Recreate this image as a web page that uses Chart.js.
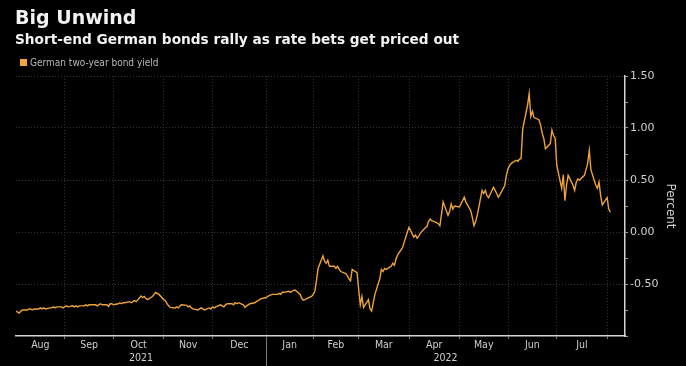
<!DOCTYPE html>
<html>
<head>
<meta charset="utf-8">
<script src="https://cdn.jsdelivr.net/npm/chart.js@4.4.0/dist/chart.umd.min.js"></script>
<style>
  html,body{margin:0;padding:0;background:#000;}
  #wrap{position:relative;width:686px;height:366px;background:#000;}
  #title{position:absolute;left:15px;top:6px;color:#f2f2f2;font:bold 19px "DejaVu Sans",sans-serif;}
  #sub{position:absolute;left:15px;top:31px;color:#f2f2f2;font:bold 13.7px "DejaVu Sans",sans-serif;}
  #leg{position:absolute;left:20px;top:57px;color:#b8b8b8;font:10px "DejaVu Sans Condensed",sans-serif;}
  #leg span{display:inline-block;width:7px;height:7px;background:#f0a63a;margin-right:3px;vertical-align:0px;}
</style>
</head>
<body>
<div id="wrap">
  <canvas id="c"></canvas>
  <div id="title">Big Unwind</div>
  <div id="sub">Short-end German bonds rally as rate bets get priced out</div>
  <div id="leg"><span></span>German two-year bond yield</div>
</div>
<script>
// day numbers counted from 1 Aug 2021 (day 0); weekday closes, Mon..Fri per row
const seriesLabel='German two-year bond yield';
const startDay2021=1;   // Mon 2 Aug 2021
const startDay2022=155; // Mon 3 Jan 2022
const yields2021=[
  -0.76,-0.77,-0.78,-0.76,-0.75,
  -0.75,-0.74,-0.74,-0.75,-0.74,
  -0.74,-0.73,-0.74,-0.73,-0.74,
  -0.73,-0.73,-0.72,-0.73,-0.72,
  -0.72,-0.73,-0.72,-0.71,-0.72,
  -0.71,-0.72,-0.71,-0.72,-0.71,
  -0.71,-0.70,-0.71,-0.70,-0.70,
  -0.70,-0.71,-0.70,-0.69,-0.70,
  -0.70,-0.715,-0.69,-0.69,-0.70,
  -0.69,-0.68,-0.69,-0.68,-0.68,
  -0.67,-0.68,-0.67,-0.66,-0.67,
  -0.615,-0.63,-0.62,-0.64,-0.65,
  -0.62,-0.60,-0.58,-0.59,-0.60,
  -0.65,-0.66,-0.69,-0.71,-0.725,
  -0.73,-0.72,-0.73,-0.71,-0.70,
  -0.705,-0.72,-0.71,-0.73,-0.74,
  -0.75,-0.74,-0.73,-0.74,-0.75,
  -0.73,-0.74,-0.72,-0.73,-0.72,
  -0.70,-0.71,-0.72,-0.70,-0.69,
  -0.69,-0.70,-0.68,-0.69,-0.68,
  -0.70,-0.725,-0.71,-0.70,-0.69,
  -0.68,-0.67,-0.66,-0.65,-0.64
];
const yields2022=[
  -0.63,-0.62,-0.61,-0.605,-0.60,
  -0.60,-0.59,-0.60,-0.58,-0.58,
  -0.57,-0.58,-0.57,-0.56,-0.56,
  -0.60,-0.64,-0.655,-0.65,-0.64,
  -0.62,-0.60,-0.57,-0.47,-0.35,
  -0.23,-0.28,-0.30,-0.27,-0.33,
  -0.33,-0.35,-0.33,-0.36,-0.38,
  -0.40,-0.42,-0.45,-0.47,-0.36,
  -0.39,-0.55,-0.70,-0.62,-0.725,
  -0.65,-0.74,-0.76,-0.68,-0.60,
  -0.45,-0.36,-0.38,-0.35,-0.36,
  -0.33,-0.30,-0.32,-0.26,-0.22,
  -0.15,-0.10,-0.05,0.00,0.045,
  -0.05,-0.03,-0.06,-0.04,-0.01,
  0.04,0.05,0.10,0.125,0.11,
  0.09,0.08,0.06,0.17,0.29,
  0.16,0.20,0.27,0.22,0.25,
  0.24,0.27,0.30,0.335,0.29,
  0.205,0.14,0.06,0.10,0.16,
  0.40,0.37,0.40,0.35,0.33,
  0.43,0.40,0.37,0.335,0.36,
  0.45,0.55,0.61,0.64,0.66,
  0.69,0.68,0.70,0.705,0.99,
  1.22,1.33,1.11,1.16,1.10,
  1.08,1.03,0.95,0.90,0.80,
  0.85,0.98,0.93,0.90,0.64,
  0.42,0.55,0.30,0.45,0.545,
  0.45,0.40,0.48,0.51,0.50,
  0.545,0.60,0.66,0.785,0.60,
  0.45,0.42,0.48,0.35,0.26,
  0.33,0.22,0.19
];
// first trading day of each month (gridlines), and month names between them
const monthStarts=[31,61,92,122,155,184,212,243,274,304,334,365];
const monthNames=['Aug','Sep','Oct','Nov','Dec','Jan','Feb','Mar','Apr','May','Jun','Jul'];
const years=['2021','2022'];
const xMin=1, xMax=376;
const yMin=-1, yMax=1.5;
const yTicks=[-1,-0.75,-0.5,-0.25,0,0.25,0.5,0.75,1,1.25,1.5];

function toPoints(start,vals){
  return vals.map((v,i)=>({x:start+Math.floor(i/5)*7+(i%5),y:v}));
}
const points=toPoints(startDay2021,yields2021).concat(toPoints(startDay2022,yields2022));

// x ticks: boundaries (grid), month centres (labels), year centres (2nd line labels)
const xTicks=[];
monthStarts.forEach(d=>xTicks.push({value:d,kind:'b',label:''}));
const bounds=[xMin].concat(monthStarts);
monthNames.forEach((m,i)=>xTicks.push({value:(bounds[i]+bounds[i+1])/2,kind:'m',label:m}));
xTicks.push({value:(xMin+startDay2022)/2,kind:'y',label:['',years[0]]});
xTicks.push({value:(startDay2022+xMax)/2,kind:'y',label:['',years[1]]});

const GRID='#333', AXIS='#d4d4d4', TXT='#cfcfcf';
const isMajor=v=>Math.abs(v*2-Math.round(v*2))<1e-6&&v>yMin;

const yearSep={id:'yearSep',afterDraw(chart){
  const c=chart.ctx, x=Math.round(chart.scales.x.getPixelForValue(startDay2022))+0.5;
  c.save();c.strokeStyle='#777';c.lineWidth=1;
  c.beginPath();c.moveTo(x,chart.chartArea.bottom+2);c.lineTo(x,chart.height);c.stroke();c.restore();
}};

new Chart(document.getElementById('c'),{type:'line',
  data:{datasets:[{label:seriesLabel,data:points,borderColor:'#eea23a',borderWidth:1.4,
    pointRadius:0,tension:0,fill:false}]},
  options:{responsive:true,maintainAspectRatio:false,animation:false,
    layout:{padding:{left:16,top:76,right:0,bottom:0}},
    plugins:{legend:{display:false},tooltip:{enabled:false}},
    scales:{
      x:{type:'linear',min:xMin,max:xMax,
        afterBuildTicks:s=>{s.ticks=xTicks.map(t=>({value:t.value}));},
        afterFit:s=>{s.height=30;},
        ticks:{autoSkip:false,maxRotation:0,color:TXT,padding:0,
          font:{family:'DejaVu Sans Condensed',size:10.5},
          callback:(v,i)=>xTicks[i].label},
        grid:{color:ctx=>xTicks[ctx.index]&&xTicks[ctx.index].kind==='b'?GRID:'transparent',
          tickColor:ctx=>xTicks[ctx.index]&&xTicks[ctx.index].kind==='b'?'#777':'transparent',
          tickLength:3,tickBorderDash:[]},
        border:{color:AXIS,width:1.5,dash:[1,2]}},
      y:{position:'right',min:yMin,max:yMax,
        afterBuildTicks:s=>{s.ticks=yTicks.map(v=>({value:v}));},
        afterFit:s=>{s.width=61;},
        ticks:{color:TXT,padding:2,font:{family:'DejaVu Sans',size:11},
          callback:v=>isMajor(v)?v.toFixed(2):''},
        grid:{color:ctx=>isMajor(ctx.tick.value)?GRID:'transparent',
          tickColor:'#999',tickLength:3,tickBorderDash:[]},
        border:{color:AXIS,width:1.5,dash:[1,2]},
        title:{display:true,text:'Percent',color:TXT,
          font:{family:'DejaVu Sans',size:12},padding:{top:9,bottom:0}}}
    }},
  plugins:[yearSep]
});
</script>
</body>
</html>
